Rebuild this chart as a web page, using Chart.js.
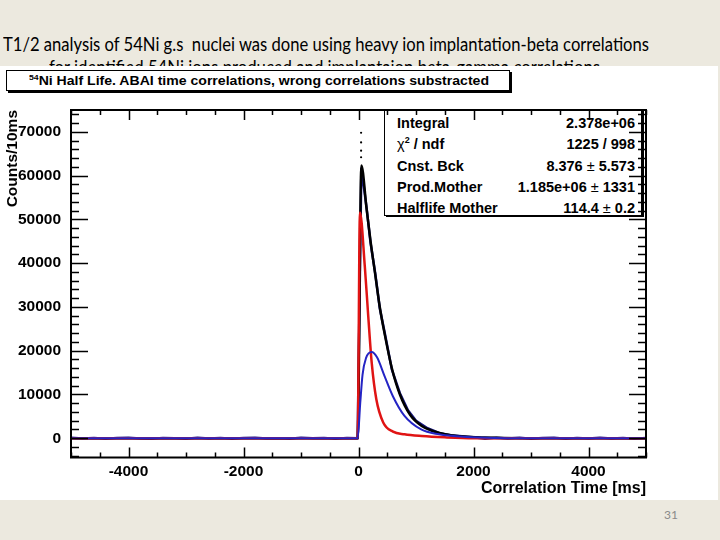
<!DOCTYPE html>
<html>
<head>
<meta charset="utf-8">
<script src="https://cdn.jsdelivr.net/npm/chart.js@4.4.1/dist/chart.umd.min.js"></script>
<style>
  html, body { margin: 0; padding: 0; }
  body { width: 720px; height: 540px; background: #ece9df; position: relative; overflow: hidden; font-family: "Liberation Sans", Arial, sans-serif; }
  .slide-line { position: absolute; white-space: nowrap; font-family: Lato, "Open Sans", sans-serif; font-size: 18.5px; color: #000; transform-origin: 0 0; }
  #pad { position: absolute; left: 0; top: 66px; width: 718px; height: 434px; background: #fff; overflow: hidden; }
  #titleBox { position: absolute; left: 6px; top: 4px; width: 502px; height: 19px; border: 1px solid #000; box-shadow: 2px 2px 0 #000; background: #fff; }
  #titleText { position: absolute; left: 22px; top: 1px; white-space: nowrap; font-weight: bold; font-size: 13px; line-height: 17px; color: #000; transform-origin: 0 50%; }
  #titleText sup { font-size: 8px; vertical-align: 5px; line-height: 0; }
  #statsBox { position: absolute; left: 384px; top: 44px; width: 256px; height: 104px; border: 1px solid #000; box-shadow: 2px 1px 0 #000; background: #fff; }
  .srow { position: absolute; left: 12px; right: 6px; height: 18px; font-weight: bold; font-size: 14.5px; line-height: 18px; color: #000; }
  .srow .v { position: absolute; right: 0; top: 0; }
  .srow .n { font-weight: normal; }
  .srow sup { font-size: 9px; vertical-align: 6px; line-height: 0; }
  #wrap { position: absolute; left: 0; top: 0; width: 718px; height: 434px; }
  #pageNum { position: absolute; left: 664px; top: 507px; font-family: Lato, sans-serif; font-size: 12px; color: #8a8a8a; }
</style>
</head>
<body>
<div class="slide-line" id="line1" style="left:3px; top:33px;">T1/2 analysis of 54Ni g.s&nbsp; nuclei was done using heavy ion implantation-beta correlations</div>
<div class="slide-line" id="line2" style="left:49px; top:56px;">for identified 54Ni ions produced and implantaion beta-gamma correlations</div>

<div id="pad">
  <div id="titleBox"><div id="titleText"><sup>54</sup>Ni Half Life. ABAI time correlations, wrong correlations substracted</div></div>
  <div id="statsBox">
    <div class="srow" style="top:3px">Integral<span class="v">2.378e+06</span></div>
    <div class="srow" style="top:24px"><span class="n">χ</span><sup>2</sup> / ndf<span class="v">1225 / 998</span></div>
    <div class="srow" style="top:46px">Cnst. Bck<span class="v">8.376 <span class="n">±</span> 5.573</span></div>
    <div class="srow" style="top:67px">Prod.Mother<span class="v">1.185e+06 <span class="n">±</span> 1331</span></div>
    <div class="srow" style="top:88px">Halflife Mother<span class="v">114.4 <span class="n">±</span> 0.2</span></div>
  </div>
  <div id="wrap"><canvas id="chart"></canvas></div>
</div>
<div id="pageNum">31</div>

<script>
// values (time in ms, counts per 10 ms)
const xTickValues = [-4000, -2000, 0, 2000, 4000];
const yTickValues = [0, 10000, 20000, 30000, 40000, 50000, 60000, 70000];

// measured histogram (dark blue)
const dataTimes = [-5000, -4800, -4600, -4400, -4200, -4000, -3800, -3600, -3400, -3200, -3000, -2800, -2600, -2400, -2200, -2000, -1800, -1600, -1400, -1200, -1000, -800, -600, -400, -200, -15,
  50, 140, 210, 290, 370, 460, 580, 720, 860, 1000, 1200, 1400, 1600, 1800, 2000, 2200, 2400, 2600, 2800, 3000, 3200, 3400, 3600, 3800, 4000, 4200, 4400, 4600, 4800, 5000];
const dataCounts = [90, -70, 50, -120, 40, 110, -60, -140, 80, 20, -100, 130, -40, 70, -110, 40, 140, -70, 10, -130, 100, -20, 70, -90, 40, 0,
  61800, 52700, 44600, 37800, 29700, 23800, 15700, 10300, 6400, 4000, 2300, 1200, 700, 450, 220, -90, 110, -50, 130, -120, 40, 90, -100, 60, -40, 120, -80, 30, -130, 70];

// total fit (black)
const totalTimes = [-5000, -15, 50, 140, 210, 290, 370, 460, 580, 720, 900, 1100, 1300, 1500, 1800, 2200, 2800, 5000];
const totalCounts = [0, 0, 62300, 52500, 45000, 37500, 30000, 23500, 16000, 10000, 5300, 2800, 1600, 900, 400, 150, 0, 0];

// mother component (red)
const motherTimes = [-5000, -15, 25, 110, 170, 230, 310, 430, 600, 800, 1100, 1500, 2000, 5000];
const motherCounts = [0, 0, 51600, 39200, 27800, 17200, 8900, 3600, 1500, 900, 500, 200, 0, 0];

// daughter component (blue)
const daughterTimes = [-5000, -15, 30, 70, 130, 228, 322, 453, 598, 800, 1090, 1400, 1700, 2100, 2600, 5000];
const daughterCounts = [0, 0, 8000, 14500, 18300, 19700, 18500, 14200, 9600, 5100, 2000, 900, 450, 150, 0, 0];

// off-scale points above the first bins
const peakTimes = [45, 45, 45, 45];
const peakCounts = [69800, 67600, 65700, 64200];

function pts(xs, ys) {
  return xs.map((x, i) => ({ x: x, y: ys[i] }));
}

// ROOT-like frame with inward ticks on all four sides
const rootFrame = {
  id: 'rootFrame',
  afterDatasetsDraw(chart) {
    const ctx = chart.ctx;
    const a = chart.chartArea;
    const x = chart.scales.x, y = chart.scales.y;
    ctx.save();
    ctx.strokeStyle = '#000';
    ctx.lineWidth = 1.5;
    ctx.beginPath();
    for (let t = -5000; t <= 5000; t += 500) {
      const px = Math.round(x.getPixelForValue(t)) + 0.5;
      const len = t % 2000 === 0 ? 10 : 5;
      ctx.moveTo(px, a.bottom); ctx.lineTo(px, a.bottom - len);
      ctx.moveTo(px, a.top); ctx.lineTo(px, a.top + len);
    }
    for (let v = -4000; v <= 74000; v += 2000) {
      const py = Math.round(y.getPixelForValue(v)) + 0.5;
      const len = v % 10000 === 0 ? 17 : 8;
      ctx.moveTo(a.left, py); ctx.lineTo(a.left + len, py);
      ctx.moveTo(a.right, py); ctx.lineTo(a.right - len, py);
    }
    ctx.stroke();
    ctx.lineWidth = 2;
    ctx.strokeRect(a.left, a.top, a.right - a.left, a.bottom - a.top);
    ctx.restore();
  }
};

const tickFont = { family: 'Liberation Sans', weight: 'bold', size: 15.5 };

new Chart(document.getElementById('chart'), {
  type: 'line',
  data: {
    datasets: [
      {
        label: 'peak', data: pts(peakTimes, peakCounts), showLine: false,
        pointRadius: 1.1, pointBackgroundColor: '#000', pointBorderWidth: 0
      },
      {
        label: 'daughter', data: pts(daughterTimes, daughterCounts),
        borderColor: '#2424c4', borderWidth: 2, pointRadius: 0, cubicInterpolationMode: 'monotone'
      },
      {
        label: 'mother', data: pts(motherTimes, motherCounts),
        borderColor: '#e01414', borderWidth: 2.5, pointRadius: 0, cubicInterpolationMode: 'monotone'
      },
      {
        label: 'total', data: pts(totalTimes, totalCounts),
        borderColor: '#000', borderWidth: 2.5, pointRadius: 0, cubicInterpolationMode: 'monotone'
      },
      {
        label: 'data', data: pts(dataTimes, dataCounts),
        borderColor: '#16167e', borderWidth: 2.5, pointRadius: 0, tension: 0
      }
    ]
  },
  options: {
    responsive: true,
    maintainAspectRatio: false,
    animation: false,
    events: [],
    layout: { padding: { left: 0, right: 72, top: 44, bottom: 0 } },
    plugins: { legend: { display: false }, tooltip: { enabled: false } },
    scales: {
      x: {
        type: 'linear', min: -5000, max: 5000,
        grid: { display: false }, border: { display: false },
        afterBuildTicks: s => { s.ticks = xTickValues.map(v => ({ value: v })); },
        afterFit: s => { s.height = 42.5; },
        ticks: { font: tickFont, color: '#000', padding: -3, maxRotation: 0, callback: v => String(v) },
        title: { display: true, text: 'Correlation Time [ms]', align: 'end', color: '#000',
          font: { family: 'Liberation Sans', weight: 'bold', size: 16 }, padding: { top: 0, bottom: 2 } }
      },
      y: {
        type: 'linear', min: -4400, max: 75000,
        grid: { display: false }, border: { display: false },
        afterBuildTicks: s => { s.ticks = yTickValues.map(v => ({ value: v })); },
        afterFit: s => { s.width = 71; },
        ticks: { font: tickFont, color: '#000', padding: 2, callback: v => String(v) },
        title: { display: true, text: 'Counts/10ms', align: 'end', color: '#000',
          font: { family: 'Liberation Sans', weight: 'bold', size: 15.5 }, padding: { top: 3, bottom: 0 } }
      }
    }
  },
  plugins: [rootFrame]
});

// fit slide lines and title to their widths in the reference
function fitWidth(id, target) {
  const el = document.getElementById(id);
  const w = el.getBoundingClientRect().width;
  el.style.transform = 'scaleX(' + (target / w) + ')';
}
fitWidth('line1', 646);
fitWidth('line2', 551);
fitWidth('titleText', 460);
</script>
</body>
</html>
